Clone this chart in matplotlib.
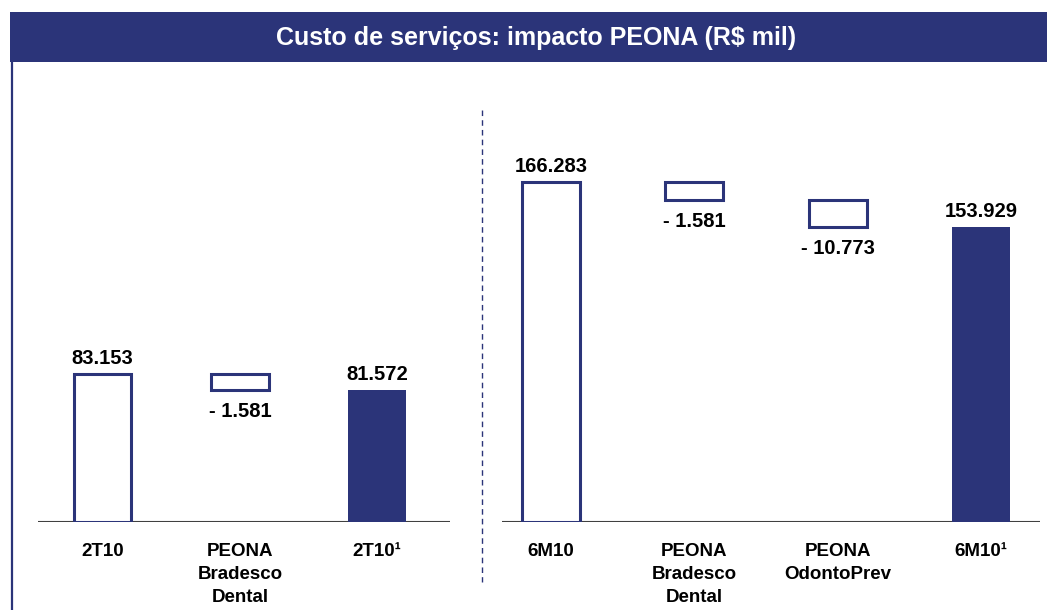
import matplotlib
matplotlib.use("Agg")
import matplotlib.pyplot as plt
from matplotlib.patches import Rectangle
from matplotlib.lines import Line2D

plt.rcParams['font.family'] = ['Liberation Sans', 'DejaVu Sans']

# ---- data (R$ mil) ----
title = "Custo de serviços: impacto PEONA (R$ mil)"
left_categories = ["2T10", "PEONA\nBradesco\nDental", "2T10¹"]
left_start = 83153
left_deltas = [-1581]
left_total = 81572

right_categories = ["6M10", "PEONA\nBradesco\nDental", "PEONA\nOdontoPrev", "6M10¹"]
right_start = 166283
right_deltas = [-1581, -10773]
right_total = 153929

NAVY = "#2b3479"
W, H = 1047, 610

fig = plt.figure(figsize=(W / 100, H / 100), dpi=100)


def fx(x):
    return x / W


def fy(y):
    return 1 - y / H


# title bar
fig.patches.append(Rectangle((fx(10), fy(62)), fx(1047) - fx(10), fy(12) - fy(62),
                             transform=fig.transFigure, facecolor=NAVY, edgecolor="none"))
fig.text(fx(536), fy(38), title, color="white", fontsize=18, fontweight="bold",
         ha="center", va="center")
# left frame line
fig.lines.append(Line2D([fx(12), fx(12)], [fy(62), fy(610)], transform=fig.transFigure,
                        color=NAVY, lw=1.6))
# dashed separator
fig.lines.append(Line2D([fx(482), fx(482)], [fy(110), fy(582)], transform=fig.transFigure,
                        color=NAVY, lw=1.0, linestyle=(0, (4, 3))))


def fmt(v):
    return f"{abs(v):,}".replace(",", ".")


def panel(x0, x1, categories, start, deltas, total, base, px_per_unit, min_h, xlim, width):
    top_px = 100
    ax = fig.add_axes([fx(x0), fy(522), fx(x1) - fx(x0), fy(top_px) - fy(522)])
    ax.set_xlim(*xlim)
    ax.set_ylim(base, base + (522 - top_px) / px_per_unit)
    ax.axis("off")
    ax.axhline(base, color="#404040", lw=1.5, zorder=1)
    n = len(categories)
    # first bar (open)
    ax.bar(0, start - base, bottom=base, width=width, facecolor="white",
           edgecolor=NAVY, lw=2.2, zorder=3)
    ax.annotate(fmt(start), (0, start), xytext=(0, 6), textcoords="offset pixels",
                ha="center", va="bottom", fontsize=14.5, fontweight="bold")
    # delta boxes
    level = start
    drawn_top = start
    for i, d in enumerate(deltas, start=1):
        level = level + d
        bottom = level
        if drawn_top - bottom < min_h:
            bottom = drawn_top - min_h
        ax.bar(i, drawn_top - bottom, bottom=bottom, width=width, facecolor="white",
               edgecolor=NAVY, lw=2.2, zorder=3)
        ax.annotate("- " + fmt(d), (i, bottom), xytext=(0, -12), textcoords="offset pixels",
                    ha="center", va="top", fontsize=14.5, fontweight="bold")
        drawn_top = bottom
    # final bar (filled)
    ax.bar(n - 1, total - base, bottom=base, width=width, facecolor=NAVY,
           edgecolor=NAVY, lw=0, zorder=3)
    ax.annotate(fmt(total), (n - 1, total), xytext=(0, 6), textcoords="offset pixels",
                ha="center", va="bottom", fontsize=14.5, fontweight="bold")
    # category labels
    for i, c in enumerate(categories):
        ax.annotate(c, (i, base), xytext=(0, -21), textcoords="offset pixels",
                    ha="center", va="top", fontsize=13.5, fontweight="bold",
                    linespacing=1.45, annotation_clip=False)
    return ax


panel(38, 450, left_categories, left_start, left_deltas, left_total,
      base=68500, px_per_unit=10.1 / 1000, min_h=1500, xlim=(-0.47, 2.53), width=0.42)
panel(502, 1040, right_categories, right_start, right_deltas, right_total,
      base=72900, px_per_unit=3.64 / 1000, min_h=4900, xlim=(-0.34, 3.41), width=0.405)

fig.savefig("out.png", dpi=100)
